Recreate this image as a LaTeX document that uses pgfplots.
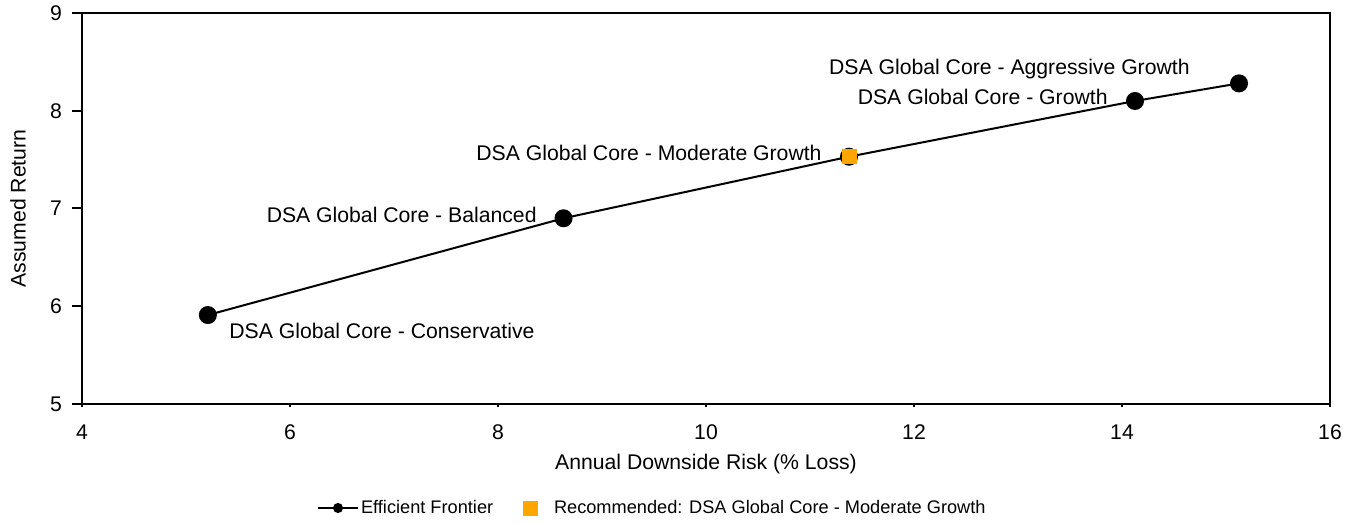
\documentclass[border=0pt]{standalone}
\usepackage{fontspec}
\setmainfont{Liberation Sans}
\usepackage{pgfplots}
\pgfplotsset{compat=1.18}
\definecolor{recorange}{RGB}{255,165,0}
\begin{document}
\begin{tikzpicture}
\useasboundingbox (-41pt,-59.5pt) rectangle (638pt,202pt);
\begin{axis}[
  scale only axis,
  width=624pt, height=195.5pt,
  xmin=4, xmax=16, ymin=5, ymax=9,
  xtick={4,6,...,16}, ytick={5,6,...,9},
  axis line style={line width=1pt},
  tick style={line width=1pt, black},
  tick align=outside,
  xtick pos=bottom, ytick pos=left,
  major tick length=5pt,
  x tick style={draw=none},
  /pgf/number format/assume math mode=true,
  ticklabel style={font=\fontsize{10.6pt}{12pt}\selectfont},
  xticklabel style={yshift=-2pt},
  yticklabel style={xshift=-1.5pt},
  label style={font=\fontsize{10.6pt}{12pt}\selectfont},
  xlabel={Annual Downside Risk (\% Loss)},
  ylabel={Assumed Return},
  xlabel style={at={(axis description cs:0.5,-0.153)}, anchor=center},
  ylabel style={at={(axis description cs:-0.0513,0.5)}, anchor=center},
  legend columns=2,
  legend style={at={(0.188,-0.266)}, anchor=west, draw=none, fill=none,
    font=\fontsize{9.1pt}{11pt}\selectfont, inner sep=0pt,
    /tikz/every odd column/.append style={column sep=0pt},
    /tikz/every even column/.append style={column sep=14pt},
    nodes={inner xsep=1pt}},
  clip=false,
]
\addplot[black, line width=1pt, mark=*, mark size=4pt,
  legend image code/.code={
    \draw[black, line width=1pt] (0pt,0pt) -- (20pt,0pt);
    \fill[black] (10pt,0pt) circle (2pt);}]
  coordinates {(5.21,5.91) (8.63,6.90) (11.375,7.53) (14.125,8.10) (15.125,8.28)};
\addlegendentry{Efficient Frontier}
\addplot[only marks, mark=square*, mark size=3.5pt, color=recorange,
  legend image code/.code={
    \fill[recorange] (0pt,-3.5pt) rectangle (7pt,3.5pt);
    \path (14pt,0pt);}]
  coordinates {(11.375,7.53)};
\addlegendentry{Recommended: DSA Global Core - Moderate Growth}
\pgfplotsinvokeforeach{4,6,...,16}{\draw[line width=1pt] (axis cs:#1,5) -- ([yshift=-1.5pt]axis cs:#1,5);}
\begin{scope}[every node/.style={font=\fontsize{10.6pt}{12pt}\selectfont, inner sep=0pt}]
\node[anchor=west] at (axis cs:5.413,5.747) {DSA Global Core - Conservative};
\node[anchor=east] at (axis cs:8.375,6.934) {DSA Global Core - Balanced};
\node[anchor=east] at (axis cs:11.115,7.568) {DSA Global Core - Moderate Growth};
\node[anchor=east] at (axis cs:13.865,8.141) {DSA Global Core - Growth};
\node[anchor=east] at (axis cs:14.654,8.427) {DSA Global Core - Aggressive Growth};
\end{scope}
\end{axis}
\end{tikzpicture}
\end{document}
